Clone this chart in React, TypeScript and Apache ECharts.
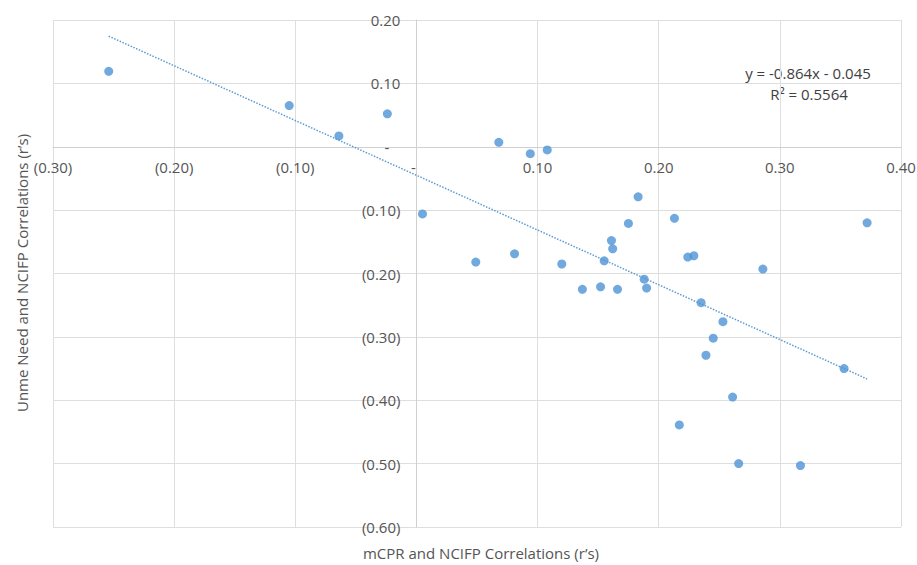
import React, { useEffect, useRef } from "react";
import * as echarts from "echarts";

const xValues = [
  -0.254, -0.105, -0.064, -0.024, 0.005, 0.068, 0.094, 0.108, 0.183, 0.213,
  0.175, 0.372, 0.161, 0.162, 0.081, 0.049, 0.120, 0.155, 0.224, 0.229,
  0.286, 0.188, 0.190, 0.137, 0.152, 0.166, 0.235, 0.253, 0.245, 0.239,
  0.353, 0.261, 0.217, 0.266, 0.317,
];
const yValues = [
  0.119, 0.065, 0.017, 0.052, -0.106, 0.007, -0.011, -0.005, -0.079, -0.113,
  -0.121, -0.120, -0.148, -0.161, -0.169, -0.182, -0.185, -0.180, -0.174, -0.172,
  -0.193, -0.209, -0.223, -0.225, -0.221, -0.225, -0.246, -0.276, -0.302, -0.329,
  -0.350, -0.395, -0.439, -0.500, -0.503,
];
const slope = -0.864;
const intercept = -0.045;
const equationText = "y = -0.864x - 0.045";
const r2Text = "R² = 0.5564";
const xTitle = "mCPR and NCIFP Correlations (r’s)";
const yTitle = "Unme Need and NCIFP Correlations (r’s)";

const X_MIN = -0.3;
const X_MAX = 0.4;
const Y_MIN = -0.6;
const Y_MAX = 0.2;

const FONT = "'Open Sans', 'Segoe UI', sans-serif";
const LABEL_COLOR = "#555555";
const DOT_COLOR = "#4E93D6";

const GRID = { left: 53, right: 16, top: 20, bottom: 38 };
const W = 917;
const H = 565;

function fmt(v: number): string {
  if (Math.abs(v) < 1e-9) return "-";
  const s = Math.abs(v).toFixed(2);
  return v < 0 ? `(${s})` : s;
}

export default function App() {
  const ref = useRef<HTMLDivElement>(null);
  useEffect(() => {
    if (!ref.current) return;
    const chart = echarts.init(ref.current, undefined, { renderer: "svg" });
    const points = xValues.map((x, i) => [x, yValues[i]]);
    const xMin = Math.min(...xValues);
    const xMax = Math.max(...xValues);
    const trend = [
      [xMin, slope * xMin + intercept],
      [xMax, slope * xMax + intercept],
    ];
    const gridW = W - GRID.left - GRID.right;
    const gridH = H - GRID.top - GRID.bottom;
    // place axes at the zero crossing of the other axis
    const xAxisOffset = -gridH * ((0 - Y_MIN) / (Y_MAX - Y_MIN));
    const yAxisOffset = -gridW * ((0 - X_MIN) / (X_MAX - X_MIN));
    chart.setOption({
      animation: false,
      backgroundColor: "#ffffff",
      grid: {
        ...GRID,
        containLabel: false,
        outerBoundsMode: "none",
      },
      xAxis: {
        type: "value",
        min: X_MIN,
        max: X_MAX,
        interval: 0.1,
        position: "bottom",
        offset: xAxisOffset,
        axisLine: { show: true, onZero: false, lineStyle: { color: "#d0d0d0", width: 1 } },
        axisTick: { show: false },
        splitLine: { show: true, lineStyle: { color: "#dedede", width: 1 } },
        axisLabel: {
          margin: 13,
          fontFamily: FONT,
          fontSize: 15,
          color: LABEL_COLOR,
          formatter: (v: number) => (Math.abs(v) < 1e-9 ? "{z|-}" : fmt(v)),
          rich: {
            z: { fontFamily: FONT, fontSize: 15, color: LABEL_COLOR, padding: [0, 6, 0, 0] },
          },
        },
      },
      yAxis: {
        type: "value",
        min: Y_MIN,
        max: Y_MAX,
        interval: 0.1,
        position: "left",
        offset: yAxisOffset,
        axisLine: { show: true, onZero: false, lineStyle: { color: "#d0d0d0", width: 1 } },
        axisTick: { show: false },
        splitLine: { show: true, lineStyle: { color: "#dedede", width: 1 } },
        axisLabel: {
          margin: 16,
          fontFamily: FONT,
          fontSize: 15,
          color: LABEL_COLOR,
          formatter: (v: number) => (Math.abs(v) < 1e-9 ? "{z|-}" : fmt(v)),
          rich: {
            z: { fontFamily: FONT, fontSize: 15, color: LABEL_COLOR, padding: [0, 11, 0, 0] },
          },
        },
      },
      series: [
        {
          type: "line",
          data: trend,
          symbol: "none",
          lineStyle: { color: "#5B9BD5", width: 1.5, type: [1.5, 1.5] },
          z: 2,
          silent: true,
        },
        {
          type: "scatter",
          data: points,
          symbol: "circle",
          symbolSize: 9,
          itemStyle: { color: DOT_COLOR, borderWidth: 0 },
          z: 3,
        },
      ],
      graphic: [
        {
          type: "text",
          x: 808,
          y: 73,
          style: {
            text: equationText,
            fontFamily: FONT,
            fontSize: 15,
            fill: "#404040",
            align: "center",
            verticalAlign: "middle",
          },
        },
        {
          type: "text",
          x: 809,
          y: 94,
          style: {
            text: r2Text,
            fontFamily: FONT,
            fontSize: 15,
            fill: "#404040",
            align: "center",
            verticalAlign: "middle",
          },
        },
        {
          type: "text",
          x: 481,
          y: 553,
          style: {
            text: xTitle,
            fontFamily: FONT,
            fontSize: 15,
            fill: LABEL_COLOR,
            align: "center",
            verticalAlign: "middle",
          },
        },
        {
          type: "text",
          x: 22,
          y: 273,
          rotation: Math.PI / 2,
          style: {
            text: yTitle,
            fontFamily: FONT,
            fontSize: 15,
            fill: LABEL_COLOR,
            align: "center",
            verticalAlign: "middle",
          },
        },
      ],
    });
    return () => chart.dispose();
  }, []);
  return (
    <div
      ref={ref}
      style={{ position: "fixed", left: 0, top: 0, width: W, height: H, background: "#fff" }}
    />
  );
}
